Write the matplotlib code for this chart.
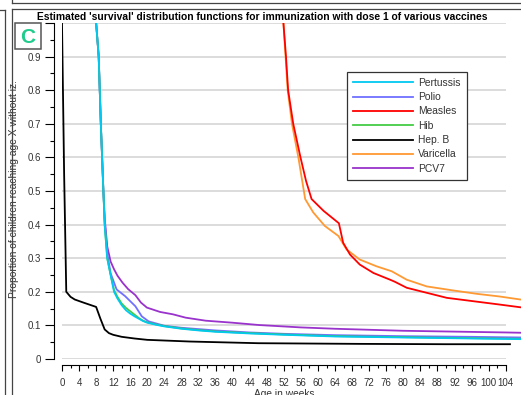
import matplotlib
matplotlib.use("Agg")
import matplotlib.pyplot as plt
from matplotlib.lines import Line2D
from matplotlib.patches import Rectangle

plt.rcParams["font.family"] = ["Liberation Sans", "DejaVu Sans"]

# weeks / proportions
pert_x = [8.0, 8.6, 9.1, 9.7, 10.0, 10.6, 11.4, 12.2, 13, 14, 15, 16, 17, 18, 19, 20, 22, 24, 28, 32, 36, 44, 52, 64, 80, 96, 108]
pert_y = [1.0, 0.9, 0.7, 0.5, 0.4, 0.3, 0.25, 0.2, 0.18, 0.16, 0.145, 0.135, 0.127, 0.12, 0.113, 0.108, 0.102, 0.097, 0.09, 0.085, 0.081, 0.076, 0.072, 0.067, 0.064, 0.061, 0.059]

hib_x = pert_x
hib_y = [1.0, 0.9, 0.7, 0.5, 0.4, 0.3, 0.25, 0.205, 0.185, 0.165, 0.152, 0.142, 0.132, 0.122, 0.114, 0.109, 0.103, 0.098, 0.091, 0.086, 0.082, 0.077, 0.073, 0.068, 0.065, 0.062, 0.060]

polio_x = [8.0, 8.6, 9.1, 9.7, 10.0, 10.6, 11.4, 12.8, 14.8, 17.2, 18.7, 20.3, 24, 28, 36, 44, 52, 64, 80, 96, 108]
polio_y = [1.0, 0.9, 0.7, 0.5, 0.41, 0.315, 0.255, 0.207, 0.187, 0.157, 0.127, 0.112, 0.099, 0.093, 0.085, 0.079, 0.075, 0.071, 0.068, 0.066, 0.064]

pcv_x = [8.0, 8.6, 9.1, 9.7, 10.0, 10.6, 11.4, 12.2, 13, 14.2, 15.5, 17.2, 18.5, 19.9, 23, 26, 29, 33.7, 40, 46.3, 56, 64, 80, 104, 108]
pcv_y = [1.0, 0.9, 0.7, 0.5, 0.42, 0.335, 0.29, 0.267, 0.248, 0.227, 0.208, 0.19, 0.168, 0.153, 0.14, 0.133, 0.123, 0.114, 0.108, 0.101, 0.094, 0.09, 0.084, 0.079, 0.078]

hepb_x = [0, 0.5, 1, 2, 3, 5, 8, 9, 10, 11, 12, 14, 17, 20, 24, 30, 46, 70, 90, 105]
hepb_y = [1.0, 0.55, 0.2, 0.185, 0.177, 0.168, 0.155, 0.12, 0.088, 0.077, 0.072, 0.066, 0.061, 0.057, 0.055, 0.052, 0.047, 0.045, 0.044, 0.044]

meas_x = [51.9, 52.5, 53.0, 54.2, 55.9, 57.2, 58.5, 61.3, 64.9, 65.9, 67.5, 69.8, 73.0, 76.9, 78, 80.8, 85.5, 90.2, 96.4, 102.6, 108]
meas_y = [1.0, 0.9, 0.8, 0.7, 0.6, 0.53, 0.476, 0.441, 0.404, 0.346, 0.311, 0.281, 0.256, 0.236, 0.23, 0.212, 0.197, 0.182, 0.172, 0.162, 0.153]

vari_x = [51.9, 52.4, 52.9, 53.9, 55.4, 57, 58.9, 61.6, 64.8, 66.7, 69.8, 73.7, 77.3, 80.8, 85.5, 91.7, 97.2, 102.6, 108]
vari_y = [1.0, 0.9, 0.8, 0.7, 0.6, 0.476, 0.436, 0.396, 0.366, 0.326, 0.296, 0.276, 0.261, 0.236, 0.216, 0.204, 0.194, 0.186, 0.176]

names = ["Pertussis", "Polio", "Measles", "Hib", "Hep. B", "Varicella", "PCV7"]
colors = ["#00c8f0", "#7070ff", "#ff0000", "#44cc44", "#000000", "#ff9933", "#9933cc"]
series = [(pert_x, pert_y), (polio_x, polio_y), (meas_x, meas_y), (hib_x, hib_y),
          (hepb_x, hepb_y), (vari_x, vari_y), (pcv_x, pcv_y)]
zorders = [9, 7, 6, 8, 5, 5, 6]

W, H = 521, 395
fig = plt.figure(figsize=(W / 100, H / 100), dpi=100)

# axes: x=0 at px 62, x=104 at px 505.7; y=0 at px 359, y=1 at px 23
px_per_wk = (505.7 - 62) / 104
xmax = (W - 62) / px_per_wk
ax = fig.add_axes([62 / W, (H - 359) / H, (W - 62) / W, (359 - 23) / H])
ax.set_xlim(0, xmax)
ax.set_ylim(0, 1)

# grid lines only across 0..104
for g in [i / 10 for i in range(11)]:
    ax.plot([0, 104], [g, g], color="#d2d2d2", lw=1.1, zorder=1, solid_capstyle="butt")

for (x, y), name, c, z in zip(series, names, colors, zorders):
    ax.plot(x, y, color=c, lw=1.3, label=name, zorder=z)

for s in ["top", "right"]:
    ax.spines[s].set_visible(False)
ax.spines["left"].set_position(("outward", 6))
ax.spines["bottom"].set_position(("outward", 4))
ax.spines["left"].set_bounds(0, 1)
ax.spines["bottom"].set_bounds(0, 104)

ax.set_yticks([i / 10 for i in range(11)])
ax.set_yticklabels(["0"] + [f"0.{i}" for i in range(1, 10)] + [""])
ax.set_yticks([i / 20 for i in range(1, 20, 2)], minor=True)
ax.set_xticks(range(0, 105, 4))
ax.set_xticks(range(2, 104, 4), minor=True)
ax.tick_params(axis="y", which="major", length=6.5, width=0.8, pad=2.5, labelsize=7, labelcolor="#333333")
ax.tick_params(axis="y", which="minor", length=3.2, width=0.8)
ax.tick_params(axis="x", which="major", direction="out", length=4, width=0.8, pad=6, labelsize=7, labelcolor="#333333")
ax.tick_params(axis="x", which="minor", direction="out", length=2.2, width=0.8)

ax.set_xlabel("Age in weeks", fontsize=7.3, color="#333333")
ax.xaxis.set_label_coords(52 / xmax, -0.088)
ax.set_ylabel("Proportion of children reaching age X without iz.", fontsize=7.4, color="#333333")
ax.yaxis.set_label_coords((19 - 62) / (W - 62), 0.505)

fig.text(262 / W, 1 - 16.5 / H,
         "Estimated 'survival' distribution functions for immunization with dose 1 of various vaccines",
         ha="center", va="center", fontsize=7.4, fontweight="bold")

leg = ax.legend(loc="upper left", bbox_to_anchor=(347.3 / W, 1 - 71.7 / H),
                bbox_transform=fig.transFigure, fontsize=7.4, frameon=True,
                fancybox=False, edgecolor="#333333", framealpha=1,
                handlelength=5.8, handletextpad=0.5, labelspacing=0.42, borderpad=0.6,
                borderaxespad=0)
leg.get_frame().set_linewidth(0.9)
for t in leg.get_texts():
    t.set_color("#333333")

# panel letter box
fig.patches.append(Rectangle((15 / W, 1 - 49.3 / H), 25.7 / W, 26.3 / H, transform=fig.transFigure,
                             facecolor="white", edgecolor="#555555", lw=1.1, zorder=10))
fig.text(27.8 / W, 1 - 37.5 / H, "C", ha="center", va="center", fontsize=15,
         fontweight="bold", color="#1fcc8c", zorder=11)

# neighbouring panel frame lines
frame = dict(color="#444444", lw=0.9, transform=fig.transFigure)
fig.add_artist(Line2D([12 / W, 1], [1 - 2.7 / H, 1 - 2.7 / H], **frame))
fig.add_artist(Line2D([12 / W, 12 / W], [1, 1 - 2.7 / H], **frame))
fig.add_artist(Line2D([12 / W, 1], [1 - 9 / H, 1 - 9 / H], **frame))
fig.add_artist(Line2D([12 / W, 12 / W], [1 - 9 / H, 0], **frame))
fig.add_artist(Line2D([0, 4.7 / W], [1 - 9.5 / H, 1 - 9.5 / H], **frame))
fig.add_artist(Line2D([4.7 / W, 4.7 / W], [1 - 9.5 / H, 0], **frame))

fig.savefig("out.png", dpi=100)
